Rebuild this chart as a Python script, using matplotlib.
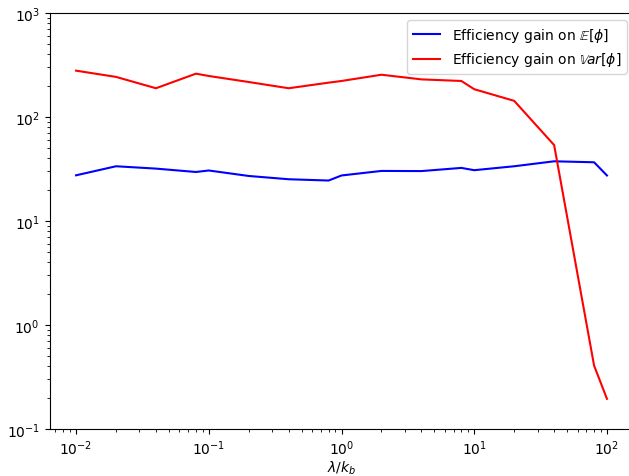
import matplotlib
matplotlib.use("Agg")
import matplotlib.pyplot as plt
import numpy as np

# lambda / k_b sweep
ratio = [0.01, 0.02, 0.04, 0.08, 0.1, 0.2, 0.4, 0.8, 1, 2, 4, 8, 10, 20, 40, 80, 100]

# efficiency gain on the mean estimate
gain_mean = [27.5, 33.6, 31.9, 29.6, 30.6, 27.1, 25.2, 24.5, 27.4,
             30.3, 30.2, 32.4, 30.8, 33.6, 37.5, 36.7, 27.4]

# efficiency gain on the variance estimate
gain_var = [279, 243, 189, 261, 248, 217, 189, 214, 222,
            255, 230, 222, 185, 143, 53.7, 0.407, 0.195]

fig = plt.figure(figsize=(6.29, 4.77), dpi=100)
ax = fig.add_axes([49.5 / 629, 47 / 477, 584 / 629, 416 / 477])

ax.plot(ratio, gain_mean, color="blue", label=r"Efficiency gain on $\mathbb{E}[\phi]$")
ax.plot(ratio, gain_var, color="red", label=r"Efficiency gain on $\mathbb{V}ar[\phi]$")

ax.set_xscale("log")
ax.set_yscale("log")
ax.set_xlim(10 ** -2.2, 10 ** 2.2)
ax.set_ylim(0.1, 1000)
ax.set_xlabel(r"$\lambda/k_b$", labelpad=1)
ax.legend(loc="upper right")

fig.savefig("out.png", dpi=100)
